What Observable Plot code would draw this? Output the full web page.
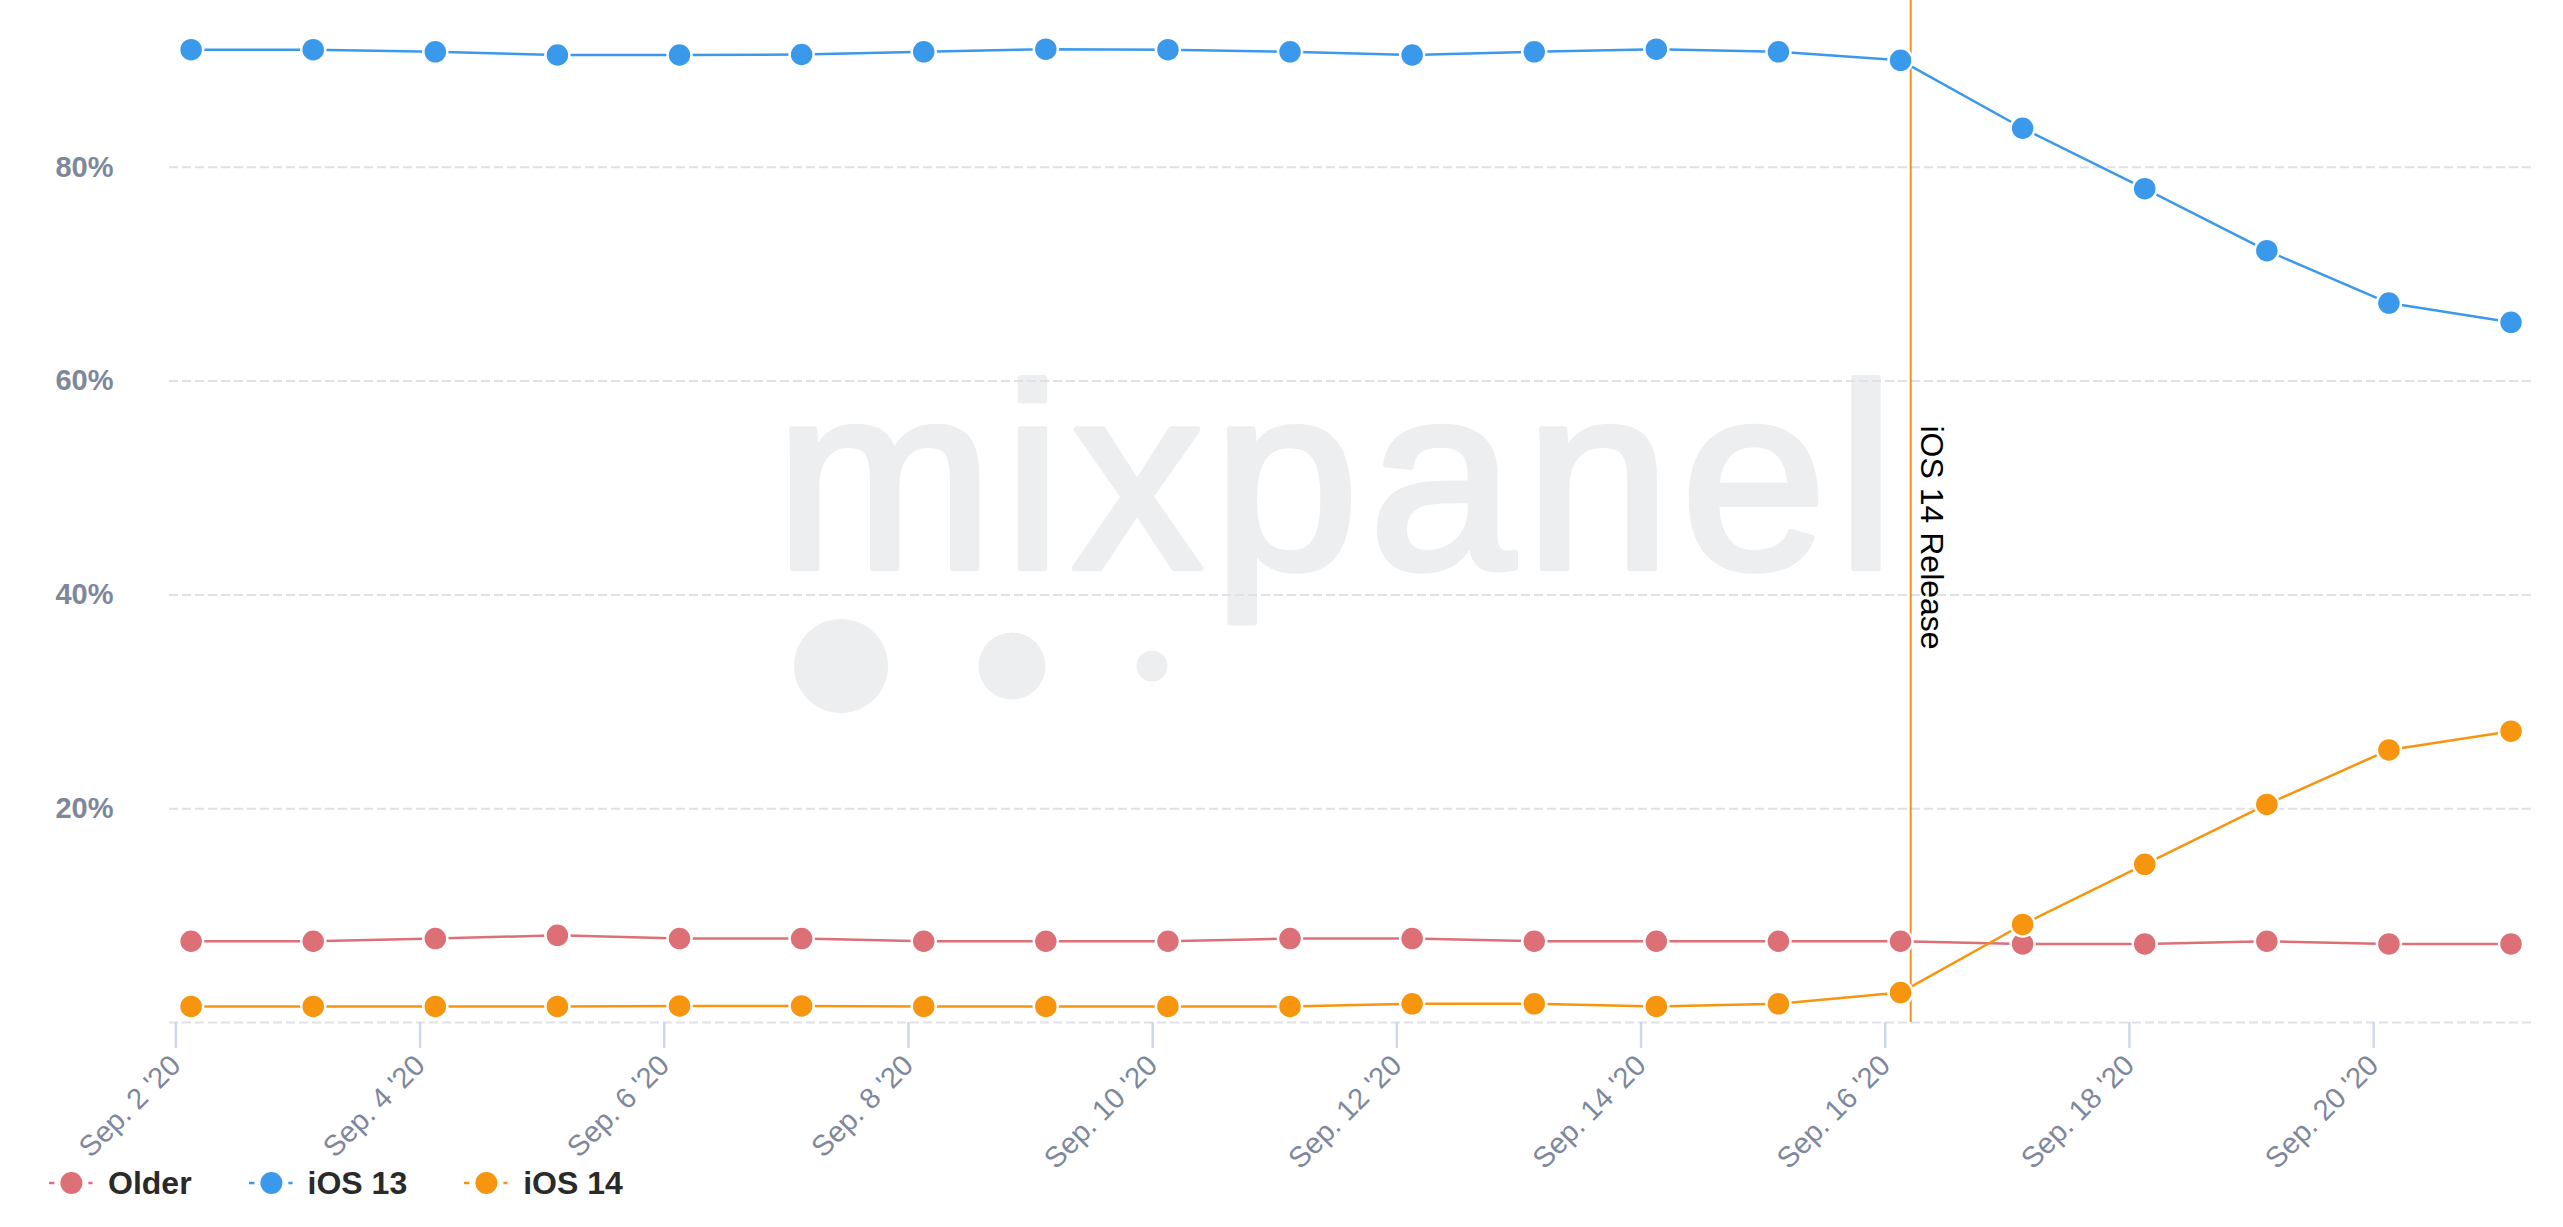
<!DOCTYPE html>
<html><head><meta charset="utf-8">
<script src="https://cdn.jsdelivr.net/npm/d3@7"></script>
<script src="https://cdn.jsdelivr.net/npm/@observablehq/plot@0.6"></script>
<style>
html,body{margin:0;padding:0;background:#fff;}
#wrap{position:relative;width:2563px;}
#wm{position:absolute;left:0;top:0;z-index:0;}
#chart{position:relative;z-index:1;}
#legend{display:flex;align-items:center;height:42px;padding-left:49px;font:bold 32px "Liberation Sans",Arial,sans-serif;color:#2a2a2a;}
.item{display:flex;align-items:center;margin-right:57px;}
.item svg{margin-right:15px;overflow:visible;}
</style></head><body>
<div id="wrap">
<svg id="wm" width="2563" height="1162">
  <text x="775" y="568" font-family="Liberation Sans, Arial, sans-serif" font-size="262" fill="#edeef0" stroke="#edeef0" stroke-width="6.5" stroke-linejoin="round" textLength="1120" lengthAdjust="spacing">mixpanel</text>
  <circle cx="841" cy="666" r="47" fill="#edeef0"/>
  <circle cx="1012" cy="666" r="33.5" fill="#edeef0"/>
  <circle cx="1152" cy="666" r="15.5" fill="#edeef0"/>
</svg>
<div id="chart"></div>
<div id="legend"></div>
</div>
<script>
const dates = [
  "2020-09-02T03:00Z","2020-09-03T03:00Z","2020-09-04T03:00Z","2020-09-05T03:00Z","2020-09-06T03:00Z",
  "2020-09-07T03:00Z","2020-09-08T03:00Z","2020-09-09T03:00Z","2020-09-10T03:00Z","2020-09-11T03:00Z",
  "2020-09-12T03:00Z","2020-09-13T03:00Z","2020-09-14T03:00Z","2020-09-15T03:00Z","2020-09-16T03:00Z",
  "2020-09-17T03:00Z","2020-09-18T03:00Z","2020-09-19T03:00Z","2020-09-20T03:00Z","2020-09-21T03:00Z"
];
const seriesNames = ["Older", "iOS 13", "iOS 14"];
const olderValues = [7.6, 7.6, 7.85, 8.15, 7.85, 7.85, 7.6, 7.6, 7.6, 7.85, 7.85, 7.6, 7.6, 7.6, 7.6, 7.35, 7.35, 7.6, 7.35, 7.35];
const ios13Values = [91.0, 91.0, 90.8, 90.5, 90.5, 90.55, 90.8, 91.05, 91.0, 90.8, 90.5, 90.8, 91.05, 90.8, 90.0, 83.65, 78.0, 72.2, 67.3, 65.5];
const ios14Values = [1.5, 1.5, 1.5, 1.5, 1.55, 1.55, 1.5, 1.5, 1.5, 1.5, 1.75, 1.75, 1.5, 1.75, 2.8, 9.17, 14.8, 20.4, 25.5, 27.25];
const seriesColors = ["#dd6f77", "#3b99ec", "#f7950f"];
const yTicks = [20, 40, 60, 80];
const gridValues = [0, 20, 40, 60, 80];
const xTickDates = ["2020-09-02","2020-09-04","2020-09-06","2020-09-08","2020-09-10","2020-09-12","2020-09-14","2020-09-16","2020-09-18","2020-09-20"];
const xTickLabels = ["Sep. 2 '20","Sep. 4 '20","Sep. 6 '20","Sep. 8 '20","Sep. 10 '20","Sep. 12 '20","Sep. 14 '20","Sep. 16 '20","Sep. 18 '20","Sep. 20 '20"];
const xDomain = ["2020-09-01T22:45Z", "2020-09-21T07:25Z"];
const releaseDate = "2020-09-16T05:00Z";
const releaseLabel = "iOS 14 Release";

const valuesBySeries = [olderValues, ios13Values, ios14Values];
const tickObjs = xTickDates.map(d => new Date(d));
const labelMap = new Map(tickObjs.map((d, i) => [+d, xTickLabels[i]]));
const releaseObj = new Date(releaseDate);

const marks = [
  Plot.gridY(gridValues, {stroke: "#dfe1e6", strokeOpacity: 1, strokeWidth: 2, strokeDasharray: "9,4"}),
  Plot.axisY({ticks: yTicks, tickFormat: d => d + "%", tickSize: 0, tickPadding: 56, fontSize: 29, fontWeight: "bold", fill: "#7e879b", label: null}),
  Plot.axisX({ticks: tickObjs, tickFormat: d => labelMap.get(+d), tickSize: 26, tickRotate: -45, tickPadding: 12, stroke: "#cfd7ea", strokeWidth: 2.5, fill: "#7e879b", fontSize: 29, label: null}),
  Plot.ruleX([releaseObj], {stroke: "#f5901e", strokeWidth: 2}),
  Plot.text([releaseObj], {x: d => d, text: () => releaseLabel, frameAnchor: "top", rotate: 90, textAnchor: "start", dy: 425, dx: 33, fontSize: 32, fill: "#000"})
];
seriesNames.forEach((name, s) => {
  const rows = dates.map((d, i) => ({date: new Date(d), value: valuesBySeries[s][i], series: name}));
  marks.push(Plot.line(rows, {x: "date", y: "value", stroke: seriesColors[s], strokeWidth: 2.5}));
  marks.push(Plot.dot(rows, {x: "date", y: "value", fill: seriesColors[s], stroke: "white", strokeWidth: 2.5, r: 12}));
});

const chart = Plot.plot({
  width: 2563,
  height: 1162,
  marginLeft: 169,
  marginRight: 30,
  marginTop: 0,
  marginBottom: 140,
  style: {fontFamily: '"Liberation Sans", Arial, sans-serif', background: "transparent", overflow: "visible"},
  x: {type: "utc", domain: xDomain.map(d => new Date(d))},
  y: {domain: [0, 95.6]},
  marks
});
document.getElementById("chart").appendChild(chart);

const legend = document.getElementById("legend");
seriesNames.forEach((name, s) => {
  const item = document.createElement("div");
  item.className = "item";
  const c = seriesColors[s];
  item.innerHTML = `<svg width="44" height="24" viewBox="0 0 44 24"><line x1="0" y1="12" x2="43.5" y2="12" stroke="${c}" stroke-width="2.5"/><circle cx="22.4" cy="12" r="17" fill="#fff"/><circle cx="22.4" cy="12" r="11" fill="${c}"/></svg><span>${name}</span>`;
  legend.appendChild(item);
});
</script>
</body></html>
